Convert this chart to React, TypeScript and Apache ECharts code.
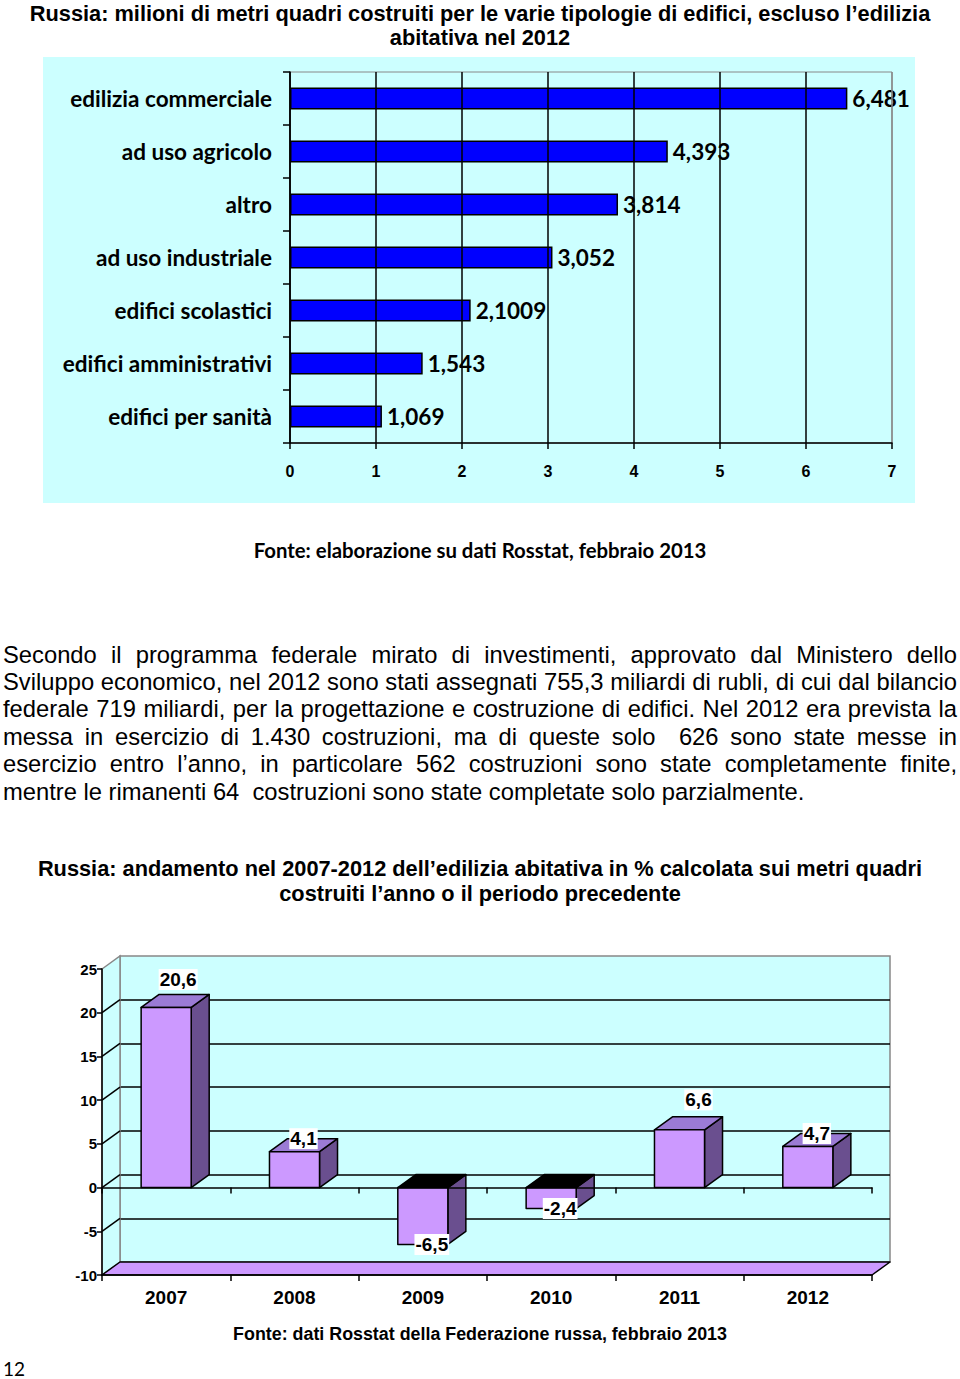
import React, { useEffect, useRef } from 'react';
import * as echarts from 'echarts';

// ---------- data ----------
const TITLE1 = [
  'Russia: milioni di metri quadri costruiti per le varie tipologie di edifici, escluso l’edilizia',
  'abitativa nel 2012',
];
const BUILDING_TYPES = [
  'edilizia commerciale',
  'ad uso agricolo',
  'altro',
  'ad uso industriale',
  'edifici scolastici',
  'edifici amministrativi',
  'edifici per sanità',
];
const BUILDING_VALUES = [6.481, 4.393, 3.814, 3.052, 2.1009, 1.543, 1.069];
const BUILDING_LABELS = ['6,481', '4,393', '3,814', '3,052', '2,1009', '1,543', '1,069'];
const X1_MIN = 0;
const X1_MAX = 7;
const X1_INTERVAL = 1;
const SOURCE1 = 'Fonte: elaborazione su dati Rosstat, febbraio 2013';

const PARAGRAPH = [
  'Secondo il programma federale mirato di investimenti, approvato dal Ministero dello',
  'Sviluppo economico, nel 2012 sono stati assegnati 755,3 miliardi di rubli, di cui dal bilancio',
  'federale 719 miliardi, per la progettazione e costruzione di edifici. Nel 2012 era prevista la',
  'messa in esercizio di 1.430 costruzioni, ma di queste solo  626 sono state messe in',
  'esercizio entro l’anno, in particolare 562 costruzioni sono state completamente finite,',
  'mentre le rimanenti 64  costruzioni sono state completate solo parzialmente.',
];

const TITLE2 = [
  'Russia: andamento nel 2007-2012 dell’edilizia abitativa in % calcolata sui metri quadri',
  'costruiti l’anno o il periodo precedente',
];
const YEARS = ['2007', '2008', '2009', '2010', '2011', '2012'];
const GROWTH = [20.6, 4.1, -6.5, -2.4, 6.6, 4.7];
const GROWTH_LABELS = ['20,6', '4,1', '-6,5', '-2,4', '6,6', '4,7'];
const Y2_MIN = -10;
const Y2_MAX = 25;
const Y2_INTERVAL = 5;
const SOURCE2 = 'Fonte: dati Rosstat della Federazione russa, febbraio 2013';
const PAGE_NUMBER = '12';

// ---------- styles ----------
const ARIAL = '"Liberation Sans", Arial, sans-serif';
const NARROW = '"Liberation Sans Narrow", "Liberation Sans", sans-serif';
const CALIBRI = 'Lato, "Open Sans", sans-serif';
const CYAN = '#CCFFFF';
const FRONT = '#CC99FF';
const SIDE = '#6A4F8F';
const TOP = '#9B7BD5';
const DEPTH_X = 18;
const DEPTH_Y = 13;
// small label nudges (pixels) for the 3D chart labels: [dx, lift]
const LABEL_NUDGE = [[3, 15], [0, 0], [0, 0], [0, 0], [10, 17], [0, 0]];

export default function App() {
  const ref = useRef<HTMLDivElement>(null);

  useEffect(() => {
    if (!ref.current) return;
    const canvas = document.createElement('canvas');
    const ctx = canvas.getContext('2d')!;
    const tw = (text: string, font: string) => {
      ctx.font = font;
      return ctx.measureText(text).width;
    };
    const fit = (text: string, weight: string, family: string, target: number, base = 20) =>
      (base * target) / tw(text, `${weight} ${base}px ${family}`);

    const title1Size = Math.min(23, fit(TITLE1[0], 'bold', ARIAL, 901));
    const title2Size = Math.min(23, fit(TITLE2[0], 'bold', NARROW, 885));
    const calSize = Math.min(24, fit('edilizia commerciale', 'bold', CALIBRI, 202));
    const source1Size = Math.min(21, fit(SOURCE1, 'bold', CALIBRI, 453));
    const source2Size = Math.min(20, fit(SOURCE2, 'bold', ARIAL, 494));
    let paraSize = 24;
    PARAGRAPH.slice(0, PARAGRAPH.length - 1).forEach((l) => {
      paraSize = Math.min(paraSize, fit(l, 'normal', ARIAL, 952, 21));
    });

    const txt = (text: string, x: number, y: number, font: string, align = 'center') => ({
      type: 'text',
      x,
      y,
      silent: true,
      style: {
        text,
        font,
        fill: '#000',
        align,
        verticalAlign: 'middle',
        textAlign: align,
        textVerticalAlign: 'middle',
      },
    });

    const graphics: any[] = [];
    graphics.push({
      type: 'rect',
      z: -10,
      silent: true,
      shape: { x: 43, y: 57, width: 872, height: 446 },
      style: { fill: CYAN },
    });
    const t1Font = `bold ${title1Size}px ${ARIAL}`;
    graphics.push(txt(TITLE1[0], 480, 13, t1Font));
    graphics.push(txt(TITLE1[1], 480, 37, t1Font));
    graphics.push(txt(SOURCE1, 480, 550, `bold ${source1Size}px ${CALIBRI}`));

    const paraFont = `${paraSize}px ${ARIAL}`;
    PARAGRAPH.forEach((line, li) => {
      const y = 654 + li * 27.4;
      const words = line.split(' ');
      const widths = words.map((w) => tw(w, paraFont));
      const total = widths.reduce((a, b) => a + b, 0);
      const justify = li < PARAGRAPH.length - 1;
      const gap = justify ? (954 - total) / (words.length - 1) : tw(' ', paraFont);
      let x = 3;
      words.forEach((w, wi) => {
        if (w) graphics.push(txt(w, x, y, paraFont, 'left'));
        x += widths[wi] + gap;
      });
    });

    const t2Font = `bold ${title2Size}px ${NARROW}`;
    graphics.push(txt(TITLE2[0], 480, 868, t2Font));
    graphics.push(txt(TITLE2[1], 480, 893, t2Font));
    graphics.push(txt(SOURCE2, 480, 1334, `bold ${source2Size}px ${ARIAL}`));
    graphics.push(txt(PAGE_NUMBER, 3, 1368, `19px ${CALIBRI}`, 'left'));

    const chart = echarts.init(ref.current, null, { renderer: 'svg' });

    const option: any = {
      animation: false,
      textStyle: { fontFamily: ARIAL },
      grid: [
        { left: 290, top: 72, width: 602, height: 371, show: true, borderColor: '#888', borderWidth: 1, backgroundColor: 'transparent', containLabel: false },
        { left: 102, top: 969, width: 770, height: 306, containLabel: false },
        { left: 102 + DEPTH_X, top: 969 - DEPTH_Y, width: 770, height: 306, show: true, backgroundColor: CYAN, borderColor: '#888', borderWidth: 1.5, containLabel: false },
      ],
      xAxis: [
        {
          gridIndex: 0,
          type: 'value',
          min: X1_MIN,
          max: X1_MAX,
          interval: X1_INTERVAL,
          z: 3,
          axisLine: { show: true, lineStyle: { color: '#000', width: 1.5 } },
          axisTick: { show: true, length: 6, lineStyle: { color: '#000', width: 1.5 } },
          axisLabel: { margin: 20, color: '#000', fontFamily: ARIAL, fontWeight: 'bold', fontSize: 16 },
          splitLine: { show: true, lineStyle: { color: ['#000', '#000', '#000', '#000', '#000', '#000', '#000', '#888'], width: 1.5 } },
        },
        {
          gridIndex: 1,
          type: 'category',
          data: YEARS,
          position: 'bottom',
          z: 5,
          axisLine: { onZero: false, lineStyle: { color: '#000', width: 1.5 } },
          axisTick: { show: true, length: 6, lineStyle: { color: '#000', width: 1.5 } },
          axisLabel: { margin: 13, color: '#000', fontFamily: ARIAL, fontWeight: 'bold', fontSize: 19 },
          splitLine: { show: false },
        },
        {
          gridIndex: 1,
          type: 'category',
          data: YEARS,
          position: 'bottom',
          z: 5,
          axisLine: { onZero: true, onZeroAxisIndex: 1, lineStyle: { color: '#000', width: 1.5 } },
          axisTick: { show: true, length: 6, lineStyle: { color: '#000', width: 1.5 } },
          axisLabel: { show: false },
          splitLine: { show: false },
        },
        {
          gridIndex: 2,
          type: 'category',
          data: YEARS,
          show: false,
        },
      ],
      yAxis: [
        {
          gridIndex: 0,
          type: 'category',
          data: BUILDING_TYPES,
          inverse: true,
          z: 3,
          axisLine: { show: true, lineStyle: { color: '#000', width: 1.5 } },
          axisTick: { show: true, length: 7, lineStyle: { color: '#000', width: 1.5 } },
          axisLabel: { margin: 18, color: '#000', fontFamily: CALIBRI, fontWeight: 'bold', fontSize: calSize },
          splitLine: { show: false },
        },
        {
          gridIndex: 1,
          type: 'value',
          min: Y2_MIN,
          max: Y2_MAX,
          interval: Y2_INTERVAL,
          z: 5,
          axisLine: { show: true, lineStyle: { color: '#000', width: 1.5 } },
          axisTick: { show: true, length: 5, lineStyle: { color: '#000', width: 1.5 } },
          axisLabel: { margin: 5, color: '#000', fontFamily: ARIAL, fontWeight: 'bold', fontSize: 15 },
          splitLine: { show: false },
        },
        {
          gridIndex: 2,
          type: 'value',
          min: Y2_MIN,
          max: Y2_MAX,
          interval: Y2_INTERVAL,
          axisLine: { show: false },
          axisTick: { show: false },
          axisLabel: { show: false },
          splitLine: { show: true, showMinLine: false, showMaxLine: false, lineStyle: { color: '#000', width: 1.5 } },
        },
      ],
      series: [
        {
          type: 'bar',
          xAxisIndex: 0,
          yAxisIndex: 0,
          data: BUILDING_VALUES,
          barWidth: 22,
          z: 2,
          itemStyle: { color: '#0000FF', borderColor: '#000', borderWidth: 1.5 },
          label: {
            show: true,
            position: 'right',
            distance: 5,
            formatter: (p: any) => BUILDING_LABELS[p.dataIndex],
            color: '#000',
            fontFamily: CALIBRI,
            fontWeight: 'bold',
            fontSize: calSize,
          },
        },
        {
          type: 'custom',
          name: 'frame',
          xAxisIndex: 1,
          yAxisIndex: 1,
          z: 1,
          silent: true,
          data: [[0, 0]],
          renderItem: (_params: any, api: any) => {
            const band = api.size([1, 0])[0];
            const xl = api.coord([0, 0])[0] - band / 2;
            const xr = api.coord([YEARS.length - 1, 0])[0] + band / 2;
            const yTop = api.coord([0, Y2_MAX])[1];
            const yBot = api.coord([0, Y2_MIN])[1];
            const children: any[] = [
              {
                type: 'polygon',
                shape: { points: [[xl, yTop], [xl + DEPTH_X, yTop - DEPTH_Y], [xl + DEPTH_X, yBot - DEPTH_Y], [xl, yBot]] },
                style: { fill: CYAN, stroke: '#888', lineWidth: 1.5 },
              },
            ];
            for (let v = Y2_MIN + Y2_INTERVAL; v < Y2_MAX; v += Y2_INTERVAL) {
              const y = api.coord([0, v])[1];
              children.push({
                type: 'line',
                shape: { x1: xl, y1: y, x2: xl + DEPTH_X, y2: y - DEPTH_Y },
                style: { stroke: '#000', lineWidth: 1.5 },
              });
            }
            children.push({
              type: 'polygon',
              shape: { points: [[xl, yBot], [xl + DEPTH_X, yBot - DEPTH_Y], [xr + DEPTH_X, yBot - DEPTH_Y], [xr, yBot]] },
              style: { fill: FRONT, stroke: '#000', lineWidth: 1.5, lineJoin: 'round' },
            });
            return { type: 'group', children };
          },
        },
        {
          type: 'custom',
          name: 'crescita',
          xAxisIndex: 1,
          yAxisIndex: 1,
          z: 2,
          data: GROWTH.map((v, i) => [i, v]),
          encode: { x: 0, y: 1 },
          renderItem: (_params: any, api: any) => {
            const i = api.value(0) as number;
            const v = api.value(1) as number;
            const base = api.coord([i, 0]);
            const tip = api.coord([i, v]);
            const band = api.size([1, 0])[0];
            const w = band * 0.39;
            const xL = base[0] - w / 2;
            const xR = base[0] + w / 2;
            const yT = Math.min(base[1], tip[1]);
            const yB = Math.max(base[1], tip[1]);
            const st = { stroke: '#000', lineWidth: 1.5, lineJoin: 'round' };
            const nudge = LABEL_NUDGE[i] || [0, 0];
            const lx = base[0] + DEPTH_X / 2 + nudge[0];
            const ly = v >= 0 ? yT - DEPTH_Y - nudge[1] : yB + nudge[1];
            return {
              type: 'group',
              children: [
                {
                  type: 'polygon',
                  shape: { points: [[xR, yT], [xR + DEPTH_X, yT - DEPTH_Y], [xR + DEPTH_X, yB - DEPTH_Y], [xR, yB]] },
                  style: { fill: SIDE, ...st },
                },
                {
                  type: 'polygon',
                  shape: { points: [[xL, yT], [xL + DEPTH_X, yT - DEPTH_Y], [xR + DEPTH_X, yT - DEPTH_Y], [xR, yT]] },
                  style: { fill: v >= 0 ? TOP : '#000', ...st },
                },
                {
                  type: 'rect',
                  shape: { x: xL, y: yT, width: w, height: yB - yT },
                  style: { fill: FRONT, ...st },
                },
                {
                  type: 'text',
                  x: lx,
                  y: ly,
                  z2: 10,
                  style: {
                    text: GROWTH_LABELS[i],
                    font: `bold 19px ${ARIAL}`,
                    fill: '#000',
                    textFill: '#000',
                    align: 'center',
                    verticalAlign: 'middle',
                    textAlign: 'center',
                    textVerticalAlign: 'middle',
                    backgroundColor: '#fff',
                    textBackgroundColor: '#fff',
                    padding: [1, 1],
                    textPadding: [1, 1],
                  },
                },
              ],
            };
          },
        },
      ],
      graphic: graphics,
    };

    chart.setOption(option);
    return () => chart.dispose();
  }, []);

  return (
    <div
      ref={ref}
      style={{ position: 'absolute', left: 0, top: 0, width: 960, height: 1379, background: '#fff' }}
    />
  );
}
